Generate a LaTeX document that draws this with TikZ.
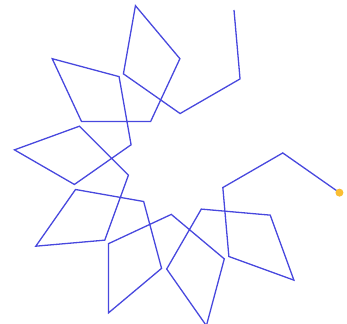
\documentclass[tikz,border=0pt]{standalone}
\usepackage{tikz}
\usetikzlibrary{calc}
\definecolor{trailblue}{RGB}{72,72,222}
\definecolor{turtleorange}{RGB}{250,190,50}
\tikzset{
  trail/.style={draw=trailblue,line width=1.3pt,line join=miter},
  turtle/.style={circle,fill=turtleorange,inner sep=0pt,minimum size=8pt}
}
\begin{document}
\begin{tikzpicture}[x=1pt,y=-1pt]
\def\len{69.2}
\useasboundingbox (0,0) rectangle (347,323);
\coordinate (start) at (234,10);
%% Trail: four steps, turn 65 each, extra turn after every fourth
\draw[trail] (start)
  foreach \k [evaluate=\k as \h using {85+65*\k+65*floor(\k/4)}] in {0,...,31} {
    -- ++(\h:\len)
  } coordinate (stop);
\node[turtle] (head) at (stop) {};
\end{tikzpicture}
\end{document}
